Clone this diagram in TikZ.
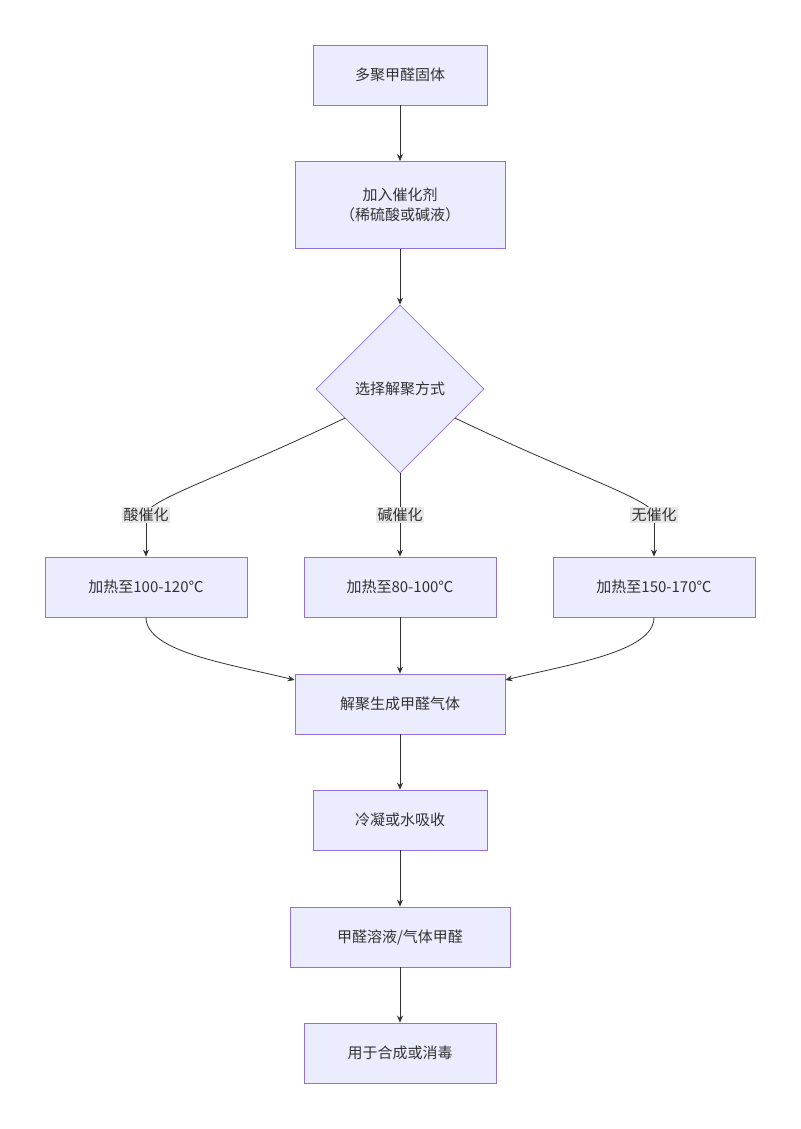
\documentclass[tikz,border=0pt]{standalone}
\usepackage{fontspec}
\setmainfont{Noto Sans CJK SC}
\usetikzlibrary{shapes.geometric,arrows.meta}
\definecolor{nf}{HTML}{ECECFF}
\definecolor{ns}{HTML}{9370DB}
\definecolor{ln}{HTML}{333333}
\definecolor{lb}{HTML}{E8E8E8}
\begin{document}
\begin{tikzpicture}[x=1pt,y=-1pt,
 box/.style={draw=ns,fill=nf,line width=0.8pt,minimum height=60pt,align=center,font=\fontsize{15}{20}\selectfont,text=ln},
 dia/.style={draw=ns,fill=nf,line width=0.8pt,diamond,aspect=1,minimum width=168pt,minimum height=168pt,inner sep=0pt,font=\fontsize{15}{20}\selectfont,text=ln},
 lab/.style={fill=lb,inner sep=1.5pt,font=\fontsize{15}{20}\selectfont,text=ln},
 ar/.style={draw=ln,line width=0.8pt,-{Stealth[length=7pt,width=6pt]}},
 li/.style={draw=ln,line width=0.8pt}]
\useasboundingbox[fill=white] (0,0) rectangle (800,1129);
\node[box,minimum width=174pt] (n1) at (400,75) {多聚甲醛固体};
\node[box,minimum width=210pt,minimum height=87pt] (n2) at (400,205) {加入催化剂\\（稀硫酸或碱液）};
\node[dia] (d) at (400,389) {选择解聚方式};
\node[box,minimum width=202pt] (a) at (146,587) {加热至100-120℃};
\node[box,minimum width=192pt] (b) at (400,587) {加热至80-100℃};
\node[box,minimum width=202pt] (c) at (654,587) {加热至150-170℃};
\node[box,minimum width=210pt] (n4) at (400,704) {解聚生成甲醛气体};
\node[box,minimum width=174pt] (n5) at (400,820) {冷凝或水吸收};
\node[box,minimum width=220pt] (n6) at (400,937) {甲醛溶液/气体甲醛};
\node[box,minimum width=192pt] (n7) at (400,1053) {用于合成或消毒};
\draw[ar] (n1) -- (n2);
\draw[ar] (n2) -- (d);
\coordinate (dl) at (345,418);
\coordinate (dr) at (455,418);
\draw[li] (dl) .. controls (220,478) and (146,500) .. (146,515);
\draw[ar] (146,515) -- (a);
\draw[li] (d.south) -- (400,515);
\draw[ar] (400,515) -- (b);
\draw[li] (dr) .. controls (580,478) and (654,500) .. (654,515);
\draw[ar] (654,515) -- (c);
\node[lab] (la) at (146,515) {酸催化};
\node[lab] (lbb) at (400,515) {碱催化};
\node[lab] (lc) at (654,515) {无催化};
\draw[ar] (a.south) .. controls (146,652) and (230,664) .. (n4.west |- 0,680);
\draw[ar] (b) -- (n4);
\draw[ar] (c.south) .. controls (654,652) and (570,664) .. (n4.east |- 0,680);
\draw[ar] (n4) -- (n5);
\draw[ar] (n5) -- (n6);
\draw[ar] (n6) -- (n7);
\end{tikzpicture}
\end{document}
